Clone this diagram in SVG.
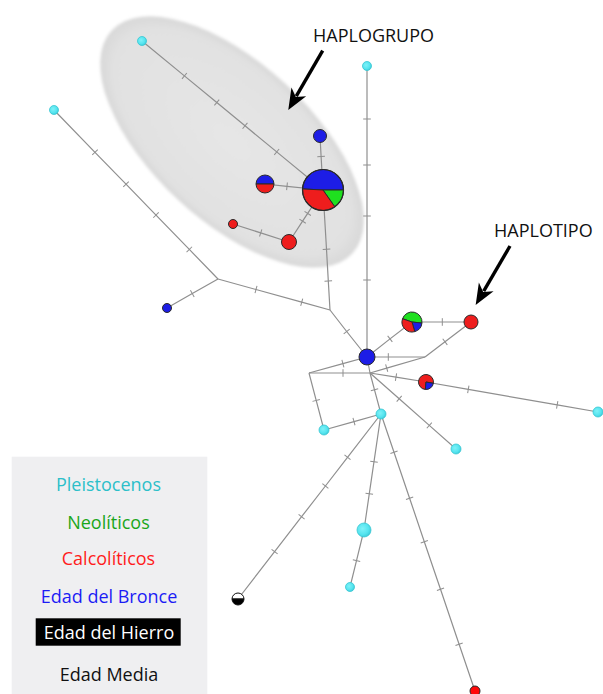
<svg xmlns="http://www.w3.org/2000/svg" width="603" height="694" viewBox="0 0 603 694">
  <defs>
    <style>
      .e { fill: none; stroke: #8f8f8f; stroke-width: 1.2; marker-mid: url(#tick); }
      .n { stroke: #2a2a2a; stroke-width: 1; }
      .cy { fill: url(#cyanFill); stroke: #38c6d2; stroke-width: 0.8; }
      .blue { fill: #1d1de6; }
      .red { fill: #ee1d1d; }
      .green { fill: #1fe01f; }
      .lbl { font-family: "Open Sans", "Liberation Sans", sans-serif; font-size: 18px; fill: #111; }
      .leg { font-family: "Open Sans", "Liberation Sans", sans-serif; font-size: 18px; text-anchor: middle; }
      .arrow { fill: none; stroke: #000; stroke-width: 3.4; marker-end: url(#head); }
    </style>
    <marker id="tick" viewBox="-5 -5 10 10" markerWidth="10" markerHeight="10" refX="0" refY="0" orient="auto" markerUnits="userSpaceOnUse">
      <line x1="0" y1="-3.8" x2="0" y2="3.8" stroke="#8f8f8f" stroke-width="1"/>
    </marker>
    <marker id="head" viewBox="-6 -10 24 20" markerWidth="24" markerHeight="20" refX="0" refY="0" orient="auto" markerUnits="userSpaceOnUse">
      <path d="M16,0 L-5,-8.5 L1,0 L-5,8.5 Z" fill="#000"/>
    </marker>
    <radialGradient id="cyanFill" cx="0.4" cy="0.4" r="0.6">
      <stop offset="0" stop-color="#7ff2f8"/>
      <stop offset="0.7" stop-color="#55e4ef"/>
      <stop offset="1" stop-color="#3fcfdc"/>
    </radialGradient>
    <radialGradient id="groupFill" cx="0.5" cy="0.5" r="0.5">
      <stop offset="0" stop-color="#e6e6e6"/>
      <stop offset="0.9" stop-color="#e1e1e1"/>
      <stop offset="1" stop-color="#d8d8d8"/>
    </radialGradient>
    <filter id="soft" x="-10%" y="-10%" width="120%" height="120%">
      <feGaussianBlur stdDeviation="1.4"/>
    </filter>
  </defs>

  <rect width="603" height="694" fill="#fff"/>

  <!-- haplogroup envelope -->
  <g id="haplogrupo-area">
    <ellipse cx="0" cy="0" rx="164" ry="79" fill="url(#groupFill)" filter="url(#soft)" transform="translate(232,142) rotate(42.8)"/>
  </g>

  <!-- connectors with mutation ticks -->
  <g id="connectors">
    <path class="e" d="M142,41 L184.4,75.9 L216.8,102.5 L245,125.8 L276.7,151.9 L323,190"/>
    <path class="e" d="M320,136 L321.1,156.5 L323,190"/>
    <path class="e" d="M265,184 L287,186.3 L323,190"/>
    <path class="e" d="M323,190 L307.7,213.4 L302.6,221.2 L289,242"/>
    <path class="e" d="M289,242 L260.7,232.9 L233,224"/>
    <path class="e" d="M323,190 L326.5,249.3 L328.3,281 L330,310"/>
    <path class="e" d="M54,110 L95,152.3 L126,184.2 L156,215.1 L189.3,249.4 L218,279"/>
    <path class="e" d="M218,279 L192.3,293.6 L167,308"/>
    <path class="e" d="M218,279 L256,289.5 L301.7,302.2 L330,310"/>
    <path class="e" d="M330,310 L346.7,331.5 L367,357"/>
    <path class="e" d="M367,66 L367,119 L367,165 L367,216 L367,280 L367,357"/>
    <path class="e" d="M367,357 L390,338.9 L412,322"/>
    <path class="e" d="M412,322 L442.3,322 L471,322"/>
    <path class="e" d="M471,322 L445,341.8 L425,357"/>
    <path class="e" d="M367,357 L388.3,357 L425,357"/>
    <path class="e" d="M370,373 L386.7,368.1 L425,357"/>
    <path class="e" d="M309,373 L342.9,363.6 L367,357"/>
    <path class="e" d="M309,373 L343,373 L370,373"/>
    <path class="e" d="M370,373 L396,377.2 L426,382"/>
    <path class="e" d="M426,382 L468.3,389.4 L557.2,404.9 L598,412"/>
    <path class="e" d="M370,373 L399.2,398.8 L429.3,425.4 L456,449"/>
    <path class="e" d="M309,373 L316.2,400.4 L324,430"/>
    <path class="e" d="M324,430 L354,421.6 L381,414"/>
    <path class="e" d="M370,373 L374.5,389.8 L381,414"/>
    <path class="e" d="M381,414 L347.5,457.3 L325.4,486 L301.6,516.7 L274.6,551.6 L238,599"/>
    <path class="e" d="M381,414 L374,461.7 L369.3,493.7 L364,530"/>
    <path class="e" d="M364,530 L356.5,560.7 L350,587"/>
    <path class="e" d="M381,414 L394,452.2 L409.6,498.2 L424.3,541.7 L440.5,589.3 L459.1,644.2 L475,691"/>
    <path class="e" d="M367,357 L370,373"/>
  </g>

  <!-- haplotype nodes -->
  <g id="n-pleist-a"><circle class="cy" cx="142" cy="41" r="4.5"/></g>
  <g id="n-pleist-b"><circle class="cy" cx="54" cy="110" r="4.5"/></g>
  <g id="n-pleist-c"><circle class="cy" cx="367" cy="66" r="4.5"/></g>
  <g id="n-bronce-a"><circle class="n blue" cx="320" cy="136" r="6.5"/></g>
  <g id="n-mix-half">
    <path class="n blue" d="M256,184 A9,9 0 0 1 274,184 Z"/>
    <path class="n red" d="M274,184 A9,9 0 0 1 256,184 Z"/>
  </g>
  <g id="n-central-pie">
    <path class="n blue" d="M323,190 L302.53,188.93 A20.5,20.5 0 0 1 343.5,190 Z"/>
    <path class="n green" d="M323,190 L343.5,190 A20.5,20.5 0 0 1 334.76,206.79 Z"/>
    <path class="n red" d="M323,190 L334.76,206.79 A20.5,20.5 0 0 1 302.53,188.93 Z"/>
    <circle cx="323" cy="190" r="20.5" fill="none" stroke="#2a2a2a" stroke-width="1.2"/>
  </g>
  <g id="n-calco-a"><circle class="n red" cx="289" cy="242" r="7.5"/></g>
  <g id="n-calco-b"><circle class="n red" cx="233" cy="224" r="4.5"/></g>
  <g id="n-bronce-b"><circle class="n blue" cx="167" cy="308" r="4.5"/></g>
  <g id="n-bronce-center"><circle class="n blue" cx="367" cy="357" r="8"/></g>
  <g id="n-mix-three">
    <path class="n green" d="M412,322 L402.55,318.74 A10,10 0 0 1 421.95,323.05 Z"/>
    <path class="n blue" d="M412,322 L421.95,323.05 A10,10 0 0 1 414.76,331.61 Z"/>
    <path class="n red" d="M412,322 L414.76,331.61 A10,10 0 0 1 402.55,318.74 Z"/>
  </g>
  <g id="n-haplotipo"><circle class="n red" cx="471" cy="322" r="7"/></g>
  <g id="n-mix-two">
    <path class="n red" d="M426,382 L425.35,389.47 A7.5,7.5 0 1 1 433.39,383.3 Z"/>
    <path class="n blue" d="M426,382 L433.39,383.3 A7.5,7.5 0 0 1 425.35,389.47 Z"/>
  </g>
  <g id="n-pleist-d"><circle class="cy" cx="456" cy="449" r="5"/></g>
  <g id="n-pleist-e"><circle class="cy" cx="598" cy="412" r="5"/></g>
  <g id="n-pleist-f"><circle class="cy" cx="324" cy="430" r="5"/></g>
  <g id="n-pleist-g"><circle class="cy" cx="381" cy="414" r="5"/></g>
  <g id="n-pleist-h"><circle class="cy" cx="364" cy="530" r="7"/></g>
  <g id="n-pleist-i"><circle class="cy" cx="350" cy="587" r="4.5"/></g>
  <g id="n-hierro-media">
    <path d="M232,599 A6,6 0 0 1 244,599 Z" fill="#fff" stroke="#111" stroke-width="1"/>
    <path d="M244,599 A6,6 0 0 1 232,599 Z" fill="#000" stroke="#111" stroke-width="1"/>
  </g>
  <g id="n-calco-c"><circle class="n" cx="475" cy="691" r="5" fill="#ff0a0a"/></g>

  <!-- callouts -->
  <g id="callout-haplogrupo">
    <path class="arrow" d="M322.7,50.7 L296.3,96.2"/>
    <text class="lbl" x="313" y="41.7">HAPLOGRUPO</text>
  </g>
  <g id="callout-haplotipo">
    <path class="arrow" d="M510,246 L483.7,291.2"/>
    <text class="lbl" x="494" y="236.7">HAPLOTIPO</text>
  </g>

  <!-- legend -->
  <g id="legend">
    <rect x="11.7" y="456.7" width="195.6" height="237.3" fill="#efeff1"/>
    <text class="leg" x="108.5" y="490.7" fill="#2cbfc9">Pleistocenos</text>
    <text class="leg" x="108.5" y="528.5" fill="#1aa61a">Neolíticos</text>
    <text class="leg" x="108.5" y="565" fill="#ff1c1c">Calcolíticos</text>
    <text class="leg" x="109" y="602.7" fill="#1c1cf5">Edad del Bronce</text>
    <rect x="35.7" y="618.3" width="145" height="27.4" fill="#000"/>
    <text class="leg" x="109" y="639.3" fill="#fff">Edad del Hierro</text>
    <text class="leg" x="109" y="680.7" fill="#111">Edad Media</text>
  </g>
</svg>
